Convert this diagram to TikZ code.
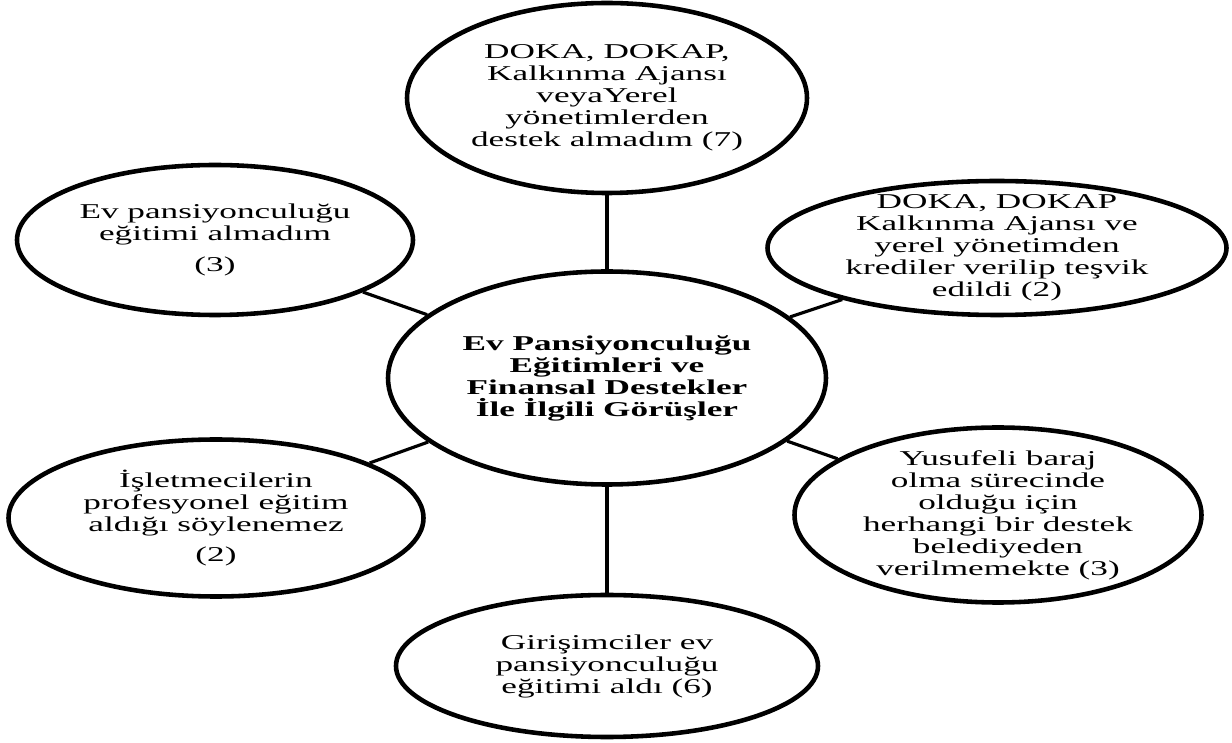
\documentclass[tikz,border=0pt]{standalone}
\usepackage{fontspec}
\setmainfont{Liberation Serif}[FakeStretch=1.67]
\usetikzlibrary{shapes.geometric}

\begin{document}
\begin{tikzpicture}
  \useasboundingbox (0,0) rectangle (24.64,14.86);

        \begin{scope}[every node/.style={ellipse,draw,line width=2.6pt,align=center,
            inner sep=-2cm,font=\fontsize{12}{12.5}\selectfont}]
          \node[minimum width=8.76cm,minimum height=4.26cm,
                font=\fontsize{12}{12.5}\selectfont\bfseries] (0) at (12.14,7.30)
                {Ev Pansiyonculuğu\\Eğitimleri ve\\Finansal Destekler\\İle İlgili Görüşler};
          \node[minimum width=8.00cm,minimum height=3.80cm] (1) at (12.14,12.90)
                {DOKA, DOKAP,\\Kalkınma Ajansı\\veyaYerel\\yönetimlerden\\destek almadım (7)};
          \node[minimum width=7.92cm,minimum height=3.00cm] (2) at (4.30,10.06)
                {Ev pansiyonculuğu\\eğitimi almadım\\[5pt](3)};
          \node[minimum width=9.18cm,minimum height=2.68cm] (3) at (19.94,9.90)
                {DOKA, DOKAP\\Kalkınma Ajansı ve\\yerel yönetimden\\krediler verilip teşvik\\edildi (2)};
          \node[minimum width=8.30cm,minimum height=3.14cm] (4) at (4.32,4.50)
                {İşletmecilerin\\profesyonel eğitim\\aldığı söylenemez\\[5pt](2)};
          \node[minimum width=8.14cm,minimum height=3.50cm] (5) at (19.96,4.56)
                {Yusufeli baraj\\olma sürecinde\\olduğu için\\herhangi bir destek\\belediyeden\\verilmemekte (3)};
          \node[minimum width=8.44cm,minimum height=2.84cm] (6) at (12.14,1.54)
                {Girişimciler ev\\pansiyonculuğu\\eğitimi aldı (6)};
        \end{scope}

        \begin{scope}[every edge/.style={draw,line width=1.8pt}]
          \path (0) edge[line width=2.8pt] (1);
          \path (0) edge (2);
          \path (0) edge (3);
          \path (0) edge (4);
          \path (0) edge (5);
          \path (0) edge[line width=2.8pt] (6);
        \end{scope}

      \end{tikzpicture}
\end{document}
